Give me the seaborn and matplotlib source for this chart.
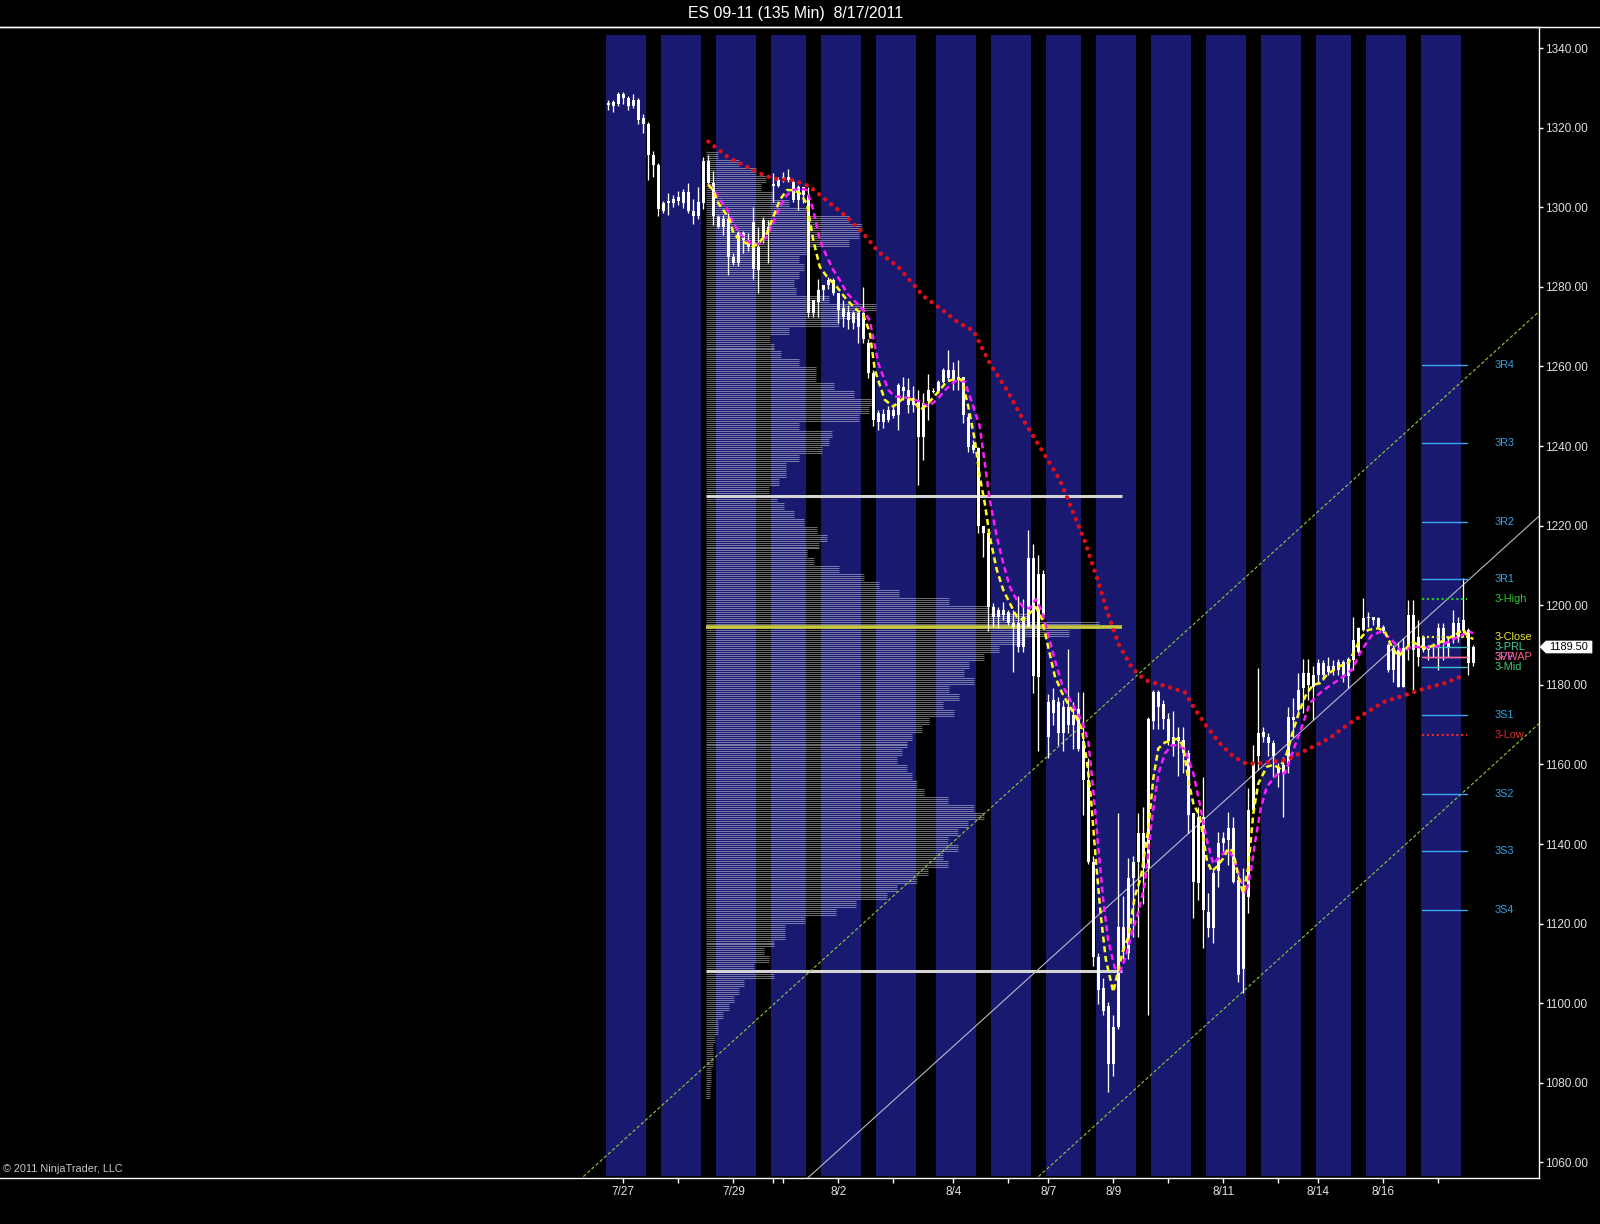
import numpy as np
import matplotlib
matplotlib.use("Agg")
import matplotlib.pyplot as plt
import matplotlib.transforms as mtransforms
from matplotlib.lines import Line2D
from matplotlib.patches import Polygon
import seaborn as sns

# ---------------- data ----------------
# OHLC of the 135-minute bars, bar index 0..173
opens = [1325.8, 1325.5, 1326.0, 1328.5, 1327.5, 1325.5, 1327.0, 1322.5, 1321.0, 1313.0,
         1310.5, 1299.0, 1301.0, 1302.0, 1301.5, 1301.0, 1303.8, 1299.0, 1297.8, 1301.0,
         1311.5, 1306.0, 1297.6, 1295.1, 1297.0, 1287.6, 1286.0, 1293.4, 1291.7, 1284.5,
         1290.0, 1291.7, 1295.0, 1305.4, 1305.4, 1306.8, 1307.7, 1306.4, 1301.8, 1305.0,
         1303.0, 1273.3, 1276.3, 1279.2, 1280.5, 1281.7, 1278.4, 1274.6, 1273.7, 1273.3,
         1270.0, 1273.3, 1266.0, 1258.3, 1246.0, 1248.0, 1246.5, 1249.0, 1247.8, 1254.9,
         1254.1, 1250.3, 1251.2, 1242.3, 1251.2, 1253.5, 1253.7, 1256.2, 1257.0, 1259.1,
         1256.6, 1257.4, 1247.4, 1240.2, 1239.4, 1219.8, 1218.1, 1199.6, 1197.1, 1198.8,
         1198.4, 1195.5, 1195.5, 1189.6, 1194.6, 1211.8, 1182.0, 1207.9, 1175.6, 1173.0,
         1175.6, 1167.9, 1174.5, 1170.0, 1174.0, 1165.8, 1156.1, 1135.6, 1111.5, 1103.8,
         1099.2, 1084.8, 1094.0, 1119.2, 1112.5, 1131.5, 1135.6, 1142.8, 1134.0, 1171.0,
         1178.1, 1175.1, 1171.5, 1164.8, 1166.9, 1166.1, 1162.8, 1147.7, 1130.2, 1146.9,
         1123.0, 1118.8, 1133.1, 1140.2, 1141.0, 1144.0, 1131.0, 1108.5, 1126.8, 1148.5,
         1162.0, 1168.2, 1167.0, 1165.3, 1159.4, 1157.8, 1160.3, 1172.0, 1173.7, 1179.1,
         1182.9, 1179.5, 1182.5, 1185.4, 1184.6, 1183.7, 1183.7, 1185.8, 1182.1, 1186.2,
         1188.3, 1193.8, 1196.7, 1197.1, 1196.7, 1194.6, 1190.0, 1183.7, 1188.8, 1179.5,
         1189.2, 1197.5, 1187.1, 1192.1, 1188.8, 1189.2, 1189.2, 1194.2, 1190.4, 1191.3,
         1195.5, 1193.4, 1193.8, 1185.5]
highs = [1327.0, 1327.0, 1329.0, 1329.0, 1328.0, 1328.5, 1327.5, 1323.5, 1321.5, 1314.0,
         1311.0, 1301.5, 1303.5, 1303.0, 1304.0, 1304.5, 1306.0, 1302.0, 1305.0, 1312.5,
         1313.0, 1309.0, 1298.0, 1298.0, 1298.5, 1288.4, 1294.0, 1294.0, 1293.4, 1300.0,
         1295.0, 1297.6, 1296.8, 1308.5, 1307.7, 1308.8, 1309.5, 1306.8, 1305.6, 1305.2,
         1305.0, 1276.7, 1282.0, 1280.5, 1282.5, 1282.1, 1278.4, 1276.7, 1275.5, 1274.0,
         1273.3, 1280.0, 1267.0, 1259.0, 1249.0, 1249.2, 1250.0, 1250.5, 1255.8, 1257.4,
         1257.0, 1255.0, 1254.1, 1253.2, 1258.0, 1254.5, 1256.6, 1259.5, 1264.1, 1261.2,
         1261.6, 1257.4, 1248.2, 1241.5, 1239.8, 1219.8, 1218.9, 1200.5, 1199.6, 1200.9,
         1198.8, 1198.8, 1202.2, 1201.5, 1218.9, 1215.5, 1212.5, 1208.9, 1177.6, 1179.2,
         1177.0, 1176.1, 1188.9, 1175.6, 1178.1, 1178.1, 1161.7, 1137.1, 1112.5, 1106.3,
         1100.2, 1097.1, 1147.9, 1126.9, 1136.6, 1137.1, 1147.9, 1149.4, 1172.0, 1178.6,
         1178.6, 1176.1, 1173.0, 1173.5, 1169.5, 1169.5, 1163.6, 1147.7, 1149.4, 1156.9,
         1127.6, 1133.5, 1143.1, 1143.1, 1148.1, 1146.9, 1133.1, 1133.9, 1154.0, 1164.8,
         1184.1, 1169.5, 1167.8, 1166.1, 1160.3, 1161.9, 1174.5, 1176.6, 1182.9, 1186.6,
         1186.6, 1184.6, 1186.6, 1186.2, 1187.1, 1186.2, 1186.6, 1186.2, 1187.1, 1197.1,
         1194.6, 1201.7, 1198.4, 1197.1, 1197.1, 1195.1, 1190.4, 1190.0, 1190.8, 1191.7,
         1201.3, 1201.3, 1196.3, 1192.5, 1190.0, 1190.4, 1195.5, 1195.5, 1191.7, 1198.8,
         1197.1, 1206.8, 1194.2, 1190.0]
lows = [1324.5, 1324.0, 1325.5, 1326.0, 1324.5, 1325.0, 1321.0, 1318.6, 1306.8, 1307.5,
        1297.8, 1298.6, 1298.0, 1300.0, 1300.5, 1299.8, 1298.5, 1295.7, 1297.0, 1299.5,
        1305.4, 1295.5, 1294.7, 1293.0, 1283.0, 1285.6, 1285.2, 1288.4, 1289.0, 1282.0,
        1278.4, 1291.0, 1285.9, 1301.4, 1305.0, 1306.4, 1306.4, 1301.4, 1299.3, 1301.0,
        1272.5, 1272.5, 1272.5, 1276.7, 1279.5, 1278.0, 1271.0, 1270.0, 1269.5, 1269.5,
        1266.0, 1265.9, 1257.0, 1245.0, 1244.0, 1244.5, 1246.0, 1247.0, 1244.0, 1251.6,
        1248.2, 1248.6, 1230.2, 1236.5, 1246.5, 1253.2, 1253.2, 1255.8, 1256.6, 1254.1,
        1254.1, 1245.7, 1238.6, 1238.2, 1218.1, 1212.2, 1193.4, 1194.6, 1194.2, 1196.3,
        1195.1, 1183.3, 1188.3, 1188.3, 1194.6, 1177.9, 1163.3, 1196.6, 1161.7, 1170.0,
        1164.8, 1163.3, 1167.9, 1163.8, 1163.3, 1147.4, 1135.1, 1109.4, 1099.7, 1097.1,
        1077.6, 1081.7, 1093.5, 1111.0, 1111.0, 1116.6, 1116.6, 1124.8, 1097.1, 1168.9,
        1168.9, 1168.9, 1164.8, 1162.2, 1157.1, 1157.8, 1142.7, 1121.3, 1125.9, 1113.8,
        1116.7, 1115.1, 1129.3, 1138.1, 1134.7, 1130.1, 1105.4, 1102.5, 1122.6, 1147.7,
        1158.6, 1165.7, 1162.0, 1156.9, 1154.4, 1146.9, 1157.8, 1167.0, 1172.8, 1172.8,
        1176.2, 1171.2, 1180.4, 1181.2, 1182.5, 1182.5, 1182.5, 1180.8, 1179.1, 1183.7,
        1187.9, 1193.4, 1194.6, 1195.1, 1194.2, 1193.0, 1183.3, 1180.8, 1179.5, 1179.5,
        1186.2, 1177.9, 1184.6, 1188.3, 1186.2, 1187.1, 1183.7, 1186.2, 1187.1, 1190.4,
        1190.8, 1192.1, 1182.5, 1184.6]
closes = [1326.0, 1326.5, 1328.5, 1327.5, 1325.5, 1327.0, 1322.0, 1321.0, 1313.0, 1310.5,
          1299.5, 1301.0, 1301.5, 1301.0, 1302.5, 1303.8, 1299.0, 1297.8, 1301.2, 1311.5,
          1306.0, 1297.8, 1295.1, 1297.0, 1287.6, 1286.0, 1293.4, 1291.7, 1290.1, 1296.4,
          1284.2, 1296.8, 1293.4, 1305.8, 1306.8, 1307.7, 1306.8, 1301.8, 1305.0, 1303.0,
          1273.3, 1276.7, 1279.2, 1280.5, 1281.7, 1278.4, 1274.2, 1272.5, 1271.6, 1270.8,
          1273.3, 1267.0, 1258.3, 1246.5, 1248.2, 1246.0, 1249.0, 1247.5, 1255.3, 1253.7,
          1250.3, 1252.0, 1242.3, 1250.7, 1254.1, 1253.7, 1256.2, 1259.1, 1259.1, 1256.6,
          1257.4, 1247.8, 1239.8, 1239.0, 1219.8, 1218.1, 1199.6, 1197.1, 1198.8, 1197.5,
          1195.5, 1194.6, 1189.6, 1197.1, 1211.8, 1182.1, 1207.9, 1197.6, 1166.9, 1176.1,
          1167.9, 1174.5, 1170.0, 1172.5, 1163.8, 1156.1, 1135.6, 1111.5, 1103.3, 1098.1,
          1084.8, 1094.0, 1119.2, 1113.0, 1131.5, 1135.6, 1142.8, 1134.0, 1171.5, 1178.1,
          1174.5, 1171.5, 1165.8, 1167.0, 1166.0, 1162.8, 1147.3, 1130.5, 1146.9, 1123.4,
          1118.8, 1132.6, 1140.2, 1141.4, 1144.0, 1130.5, 1107.1, 1128.5, 1148.5, 1160.3,
          1167.8, 1167.0, 1165.3, 1162.0, 1157.8, 1159.8, 1172.0, 1171.2, 1178.7, 1182.9,
          1179.9, 1182.5, 1185.4, 1182.5, 1183.3, 1184.8, 1185.8, 1182.5, 1186.6, 1191.3,
          1194.2, 1196.7, 1197.1, 1196.3, 1194.6, 1193.4, 1183.7, 1189.2, 1179.5, 1189.2,
          1197.5, 1188.8, 1192.1, 1188.8, 1189.2, 1189.6, 1194.2, 1190.4, 1189.2, 1195.5,
          1192.1, 1196.3, 1185.4, 1189.5]

# session background bands (first bar, number of bars)
band_start = [0, 11, 22, 33, 43, 54, 66, 77, 88, 98, 109, 120, 131, 142, 152, 163]
band_len = [8, 8, 8, 7, 8, 8, 8, 8, 7, 8, 8, 8, 8, 7, 8, 8]

# date axis
tick_bars = [3, 14, 25, 33, 35, 46, 57, 69, 80, 88, 101, 112, 123, 134, 142, 155, 166]
tick_labels = ['7/27', '', '7/29', '', '', '8/2', '', '8/4', '', '8/7', '8/9', '',
               '8/11', '', '8/14', '8/16', '']
y_ticks = [1060, 1080, 1100, 1120, 1140, 1160, 1180, 1200, 1220, 1240, 1260, 1280,
           1300, 1320, 1340]

# fast (yellow) and slow (magenta) moving averages: (bar, price)
ma_fast_bar = [20, 21, 22, 23, 24.3, 25, 26.3, 27.7, 29, 30.3, 31.7, 33, 34.3, 35.7, 37,
               38.3, 39.7, 41, 42.3, 43.7, 45.7, 47.7, 49.7, 51, 52.3, 53.3, 55.3, 57, 59,
               61, 62.3, 63.7, 65.7, 67.7, 69.7, 70.7, 72, 73.3, 74.3, 75.3, 76.3, 77.7,
               79, 80.3, 81.7, 83, 84.3, 85.5, 86.7, 88, 89.3, 90.7, 92, 93.3, 94.7, 95.7,
               96.5, 97.5, 98.5, 99.5, 101, 102, 103, 104, 105.3, 106.5, 108, 109, 110,
               111.3, 112.7, 114, 115, 116, 117, 118.3, 119.7, 120.7, 121.7, 123, 124, 125,
               126, 127, 128, 129, 130, 131.7, 133, 134.3, 135.7, 137, 138.3, 139.7, 141,
               142.3, 143.7, 146, 148, 149.3, 150.7, 152, 154, 155.3, 156.7, 158, 159.3,
               160.7, 162, 163.3, 165.3, 167.3, 169.3, 171, 172, 173]
ma_fast_price = [1305.6, 1304.3, 1301.0, 1299.3, 1296.8, 1293.5, 1291.7, 1290.9, 1290.1,
                 1291.3, 1293.4, 1297.6, 1301.8, 1304.3, 1304.3, 1303.5, 1301.0, 1291.7,
                 1285.0, 1282.6, 1280.0, 1276.7, 1274.2, 1272.9, 1268.5, 1259.1, 1251.6,
                 1249.9, 1252.0, 1251.6, 1249.0, 1250.3, 1253.2, 1256.2, 1257.0, 1256.6,
                 1249.9, 1241.5, 1232.3, 1225.6, 1217.2, 1208.9, 1203.8, 1200.5, 1197.1,
                 1196.3, 1198.0, 1199.5, 1196.6, 1189.4, 1182.2, 1178.1, 1175.1, 1172.5,
                 1168.9, 1161.0, 1152.0, 1136.0, 1122.0, 1111.0, 1102.8, 1108.4, 1113.5,
                 1116.6, 1126.9, 1131.5, 1143.8, 1156.5, 1164.0, 1165.5, 1166.0, 1166.5,
                 1164.5, 1156.1, 1150.2, 1146.9, 1136.0, 1133.1, 1134.3, 1136.4, 1138.9,
                 1138.1, 1131.8, 1127.6, 1134.3, 1147.7, 1155.2, 1159.4, 1159.9, 1159.0,
                 1162.8, 1168.6, 1173.7, 1177.9, 1180.0, 1180.4, 1182.5, 1184.6, 1185.4,
                 1188.8, 1192.1, 1193.8, 1194.2, 1193.4, 1189.6, 1187.1, 1188.8, 1190.9,
                 1190.0, 1189.2, 1190.0, 1191.3, 1192.5, 1193.8, 1192.1, 1191.5]
ma_slow_bar = [20, 21, 22.3, 23.7, 25, 26.3, 27.7, 29, 30.3, 31.7, 33, 34.3, 35.7, 37, 38.3,
               39.7, 41, 42.3, 43.7, 45, 46.3, 47.7, 49.7, 51, 52.3, 54, 56, 57.3, 58.3,
               60.3, 62.3, 64, 65.7, 67.7, 69.7, 71.3, 73, 74.3, 75.3, 76.3, 77.7, 79,
               80.3, 81.7, 83, 84.3, 85.5, 86.7, 88, 89.3, 90.7, 92, 93.3, 94.7, 96, 97, 98,
               99, 100, 101.3, 102.3, 103.3, 104.7, 106, 107.3, 108.7, 110, 111.3, 112.7,
               114, 115.3, 117, 118.3, 119.7, 121, 122.3, 123.7, 125, 126.3, 127.5, 128.5,
               129.3, 130.5, 131.7, 133.7, 135.3, 136.3, 137.7, 139, 140.3, 142.3, 144, 146,
               148.7, 150.7, 152.7, 154.7, 156.7, 158.7, 160.7, 162.7, 164.7, 166.7, 168.7,
               170.7, 172, 173]
ma_slow_price = [1305.6, 1304.7, 1301.8, 1299.7, 1296.0, 1293.4, 1291.7, 1290.5, 1290.9,
                 1292.6, 1296.0, 1300.1, 1303.0, 1304.3, 1304.7, 1304.3, 1299.3, 1291.7,
                 1287.6, 1284.2, 1281.7, 1278.4, 1275.9, 1274.2, 1271.5, 1260.8, 1254.1,
                 1252.4, 1252.4, 1252.0, 1251.2, 1249.9, 1251.6, 1254.5, 1256.6, 1256.2,
                 1249.9, 1244.9, 1235.6, 1226.4, 1217.2, 1210.5, 1204.6, 1201.3, 1199.6,
                 1199.2, 1201.5, 1198.6, 1192.5, 1186.3, 1180.2, 1177.1, 1174.0, 1171.0,
                 1165.8, 1153.5, 1139.2, 1125.8, 1115.6, 1108.9, 1107.9, 1111.0, 1117.6,
                 1122.8, 1130.0, 1146.0, 1157.6, 1162.7, 1164.8, 1164.8, 1163.8, 1157.8,
                 1150.0, 1141.0, 1135.0, 1136.8, 1138.5, 1136.8, 1131.5, 1127.6, 1133.0,
                 1140.0, 1149.0, 1154.4, 1157.5, 1157.8, 1161.1, 1166.0, 1170.5, 1175.4,
                 1177.9, 1179.5, 1181.2, 1183.7, 1188.8, 1192.5, 1193.4, 1191.3, 1188.3,
                 1189.6, 1189.4, 1189.4, 1190.0, 1191.3, 1192.5, 1193.4, 1193.0]

# red dotted trailing line
red_bar = [20, 24, 28.3, 30.3, 33, 37, 40.3, 44.3, 47.7, 51, 54, 58, 63, 67, 70, 73, 76.3,
           79.7, 83, 86.3, 90.3, 92, 95.3, 98, 100, 102, 104.7, 107.3, 110, 112.7, 115.3,
           117, 119.7, 122.3, 125, 127.7, 130.3, 133, 135.7, 138.3, 141, 144.3, 147.3,
           151.3, 155.3, 159.3, 163.3, 167.3, 171.3]
red_price = [1316.5, 1312.5, 1309.8, 1308.5, 1307.2, 1306.8, 1305.2, 1301.0, 1297.6, 1293.4,
             1288.8, 1285.0, 1277.7, 1274.0, 1271.0, 1269.0, 1260.8, 1254.1, 1246.5, 1239.8,
             1231.5, 1226.3, 1216.1, 1205.8, 1197.6, 1190.4, 1184.3, 1181.2, 1180.2, 1179.2,
             1178.1, 1174.5, 1169.5, 1165.3, 1162.0, 1160.1, 1160.3, 1160.7, 1161.1, 1162.8,
             1164.5, 1166.6, 1169.5, 1172.8, 1175.8, 1177.4, 1179.1, 1180.4, 1182.5]

# volume profile: 2-point buckets from 1312 downwards, length in bars
profile_top = 1312
profile_len = [2.4, 6.6, 10, 12, 11, 13.6, 16.6, 20.6, 28.6, 31.2,
               30.6, 28.6, 20.6, 18.6, 19.6, 18.6, 17.6, 18, 24.6, 34,
               30.6, 26.6, 16.6, 12.8, 13.6, 15, 18.6, 22, 22, 25.6,
               29.6, 33, 32.6, 30.6, 18.6, 25.2, 24.6, 23.2, 18.6, 16,
               16, 14.6, 12.6, 14.2, 15.6, 17.6, 19.6, 22.2, 24.2, 22.6,
               20.2, 21.6, 26.6, 31.6, 34.6, 38.6, 48.6, 56.6, 64.6, 78.6,
               72.6, 63.6, 58.6, 55.6, 52.6, 51.6, 53.6, 48.6, 50.6, 47.4,
               49.6, 44.6, 43.2, 41.2, 40.2, 39.2, 38.2, 40.2, 41.2, 42.2,
               43.6, 48.4, 53.6, 55.6, 52.4, 50.4, 48.4, 50.4, 47.4, 48.4,
               44.4, 42.2, 38.2, 36.2, 30, 26, 19.8, 15.8, 15.8, 13.6,
               11.6, 12.6, 9.6, 13.6, 7.6, 6.6, 5.6, 4.6, 3.4, 2.4,
               2.4, 1.8, 1.4, 1.4, 1.4, 1, 1, 0.8, 0.8]
profile_start_bar = 19.5
profile_end_bar = 102.8
value_area = [1227.5, 1108.0]
poc_price = 1194.4

# pitchfork: anchor bar/price for upper, median, lower line; common slope (points per bar)
fork_bar = [85.34, 143.34, 138.34]
fork_price = [1159.15, 1173.7, 1115.9]
fork_slope = 1.137

# pivot levels
pivot_names = ['3R4', '3R3', '3R2', '3R1', '3-High', '3-Close', '3-PRL', '3PP', '3VWAP',
               '3-Mid', '3S1', '3-Low', '3S2', '3S3', '3S4']
pivot_values = [1260.3, 1240.8, 1221.0, 1206.5, 1201.5, 1191.9, 1189.4, 1186.9, 1186.9,
                1184.4, 1172.3, 1167.5, 1152.6, 1138.2, 1123.4]
pivot_line_colors = ['#3aa8f0', '#3aa8f0', '#3aa8f0', '#3aa8f0', '#22c322', '#e6e63a',
                     '#3cc8c0', '#ff6a9a', '#ff6a9a', '#3cc0d0', '#3aa8f0', '#e02a2a',
                     '#3aa8f0', '#3aa8f0', '#3aa8f0']
pivot_text_colors = ['#2ea2e6', '#2ea2e6', '#2ea2e6', '#2ea2e6', '#2ec82e', '#e8e836',
                     '#40d0a0', '#b458d8', '#ff5a8c', '#3ccc7c', '#2ea2e6', '#e02a2a',
                     '#2ea2e6', '#2ea2e6', '#2ea2e6']
pivot_dotted = [False, False, False, False, True, True, False, False, False, False, False,
                True, False, False, False]
last_price = 1189.50

# ---------------- figure ----------------
sns.set_theme(style='dark', rc={'axes.facecolor': 'black', 'figure.facecolor': 'black'})
plt.rcParams['font.family'] = ['Liberation Sans', 'DejaVu Sans']

W, H = 1600, 1224
fig = plt.figure(figsize=(W / 100, H / 100), dpi=100)
fig.patch.set_facecolor('black')
ax = fig.add_axes([0, (H - 1178) / H, 1539 / W, (1178 - 27) / H])
ax.set_facecolor('black')
ax.grid(False)
xmin, xmax = -121.66, 186.14
ax.set_xlim(xmin, xmax)
ax.set_ylim(1056.08, 1345.28)

# session bands
for s, n in zip(band_start, band_len):
    ax.axvspan(s - 0.5, s + n - 0.5, ymin=0.002, ymax=0.993, color='#191970', lw=0, zorder=0)

# volume profile (thin translucent lines)
for k, ln in enumerate(profile_len):
    b = profile_top - 2 * k
    levels = [b + 0.25, b + 0.75, b + 1.25, b + 1.75]
    ax.hlines(levels, profile_start_bar, profile_start_bar + ln, color='white',
              alpha=0.42, lw=0.75, zorder=1)

ax.hlines(value_area, profile_start_bar, profile_end_bar, color='#d4d4d4', lw=2.2, zorder=2)
ax.hlines([poc_price], profile_start_bar, profile_end_bar, color='#c8c83c', lw=2.6, zorder=2)

# pitchfork
xs = np.array([xmin, xmax])
for k, (b0, p0) in enumerate(zip(fork_bar, fork_price)):
    ys = p0 + fork_slope * (xs - b0)
    if k == 1:
        ax.plot(xs, ys, color='#b8b8cc', lw=0.8, zorder=2.5)
    else:
        ax.plot(xs, ys, color='#8ccd3c', lw=0.8, linestyle=(0, (3, 2)), zorder=2.5)

# candles
o = np.array(opens); h = np.array(highs); l = np.array(lows); c = np.array(closes)
x = np.arange(len(o))
ax.vlines(x, l, h, color='white', lw=0.95, zorder=3)
ax.bar(x, np.maximum(np.abs(c - o), 0.3), bottom=np.minimum(o, c), width=0.66,
       color='white', lw=0, zorder=3)

# moving averages and trailing line (seaborn)
sns.lineplot(x=ma_slow_bar, y=ma_slow_price, ax=ax, color='#ff1cff', lw=1.8,
             linestyle=(0, (2.4, 1.5)), sort=False, estimator=None, zorder=5)
sns.lineplot(x=ma_fast_bar, y=ma_fast_price, ax=ax, color='#ffff1e', lw=1.8,
             linestyle=(0, (2.4, 1.5)), sort=False, estimator=None, zorder=5.5)
sns.lineplot(x=red_bar, y=red_price, ax=ax, color='#dc0f1c', lw=3.2,
             linestyle=(0, (0.01, 1.75)), dash_capstyle='round', sort=False,
             estimator=None, zorder=6)

# pivots
for name, v, lc, tc, dotted in zip(pivot_names, pivot_values, pivot_line_colors,
                                   pivot_text_colors, pivot_dotted):
    if dotted:
        ax.plot([162.8, 171.8], [v, v], color=lc, lw=1.6, linestyle=(0, (1, 1.2)), zorder=4)
    else:
        ax.plot([162.8, 171.8], [v, v], color=lc, lw=1.0, zorder=4)
    ax.text(177.3, v, name, color=tc, fontsize=7.8, ha='left', va='center', zorder=7)

# axes styling
ax.spines['left'].set_visible(False)
for side in ['top', 'right', 'bottom']:
    ax.spines[side].set_visible(True)
    ax.spines[side].set_color('white')
    ax.spines[side].set_linewidth(1.0)
ax.yaxis.tick_right()
ax.set_yticks(y_ticks)
ax.set_yticklabels([f'{v:.2f}' for v in y_ticks])
ax.tick_params(axis='y', which='both', right=True, left=False, colors='white',
               labelcolor='#e0e0e0', length=3, width=1, direction='out', pad=1.5,
               labelsize=8.5)
ax.set_xticks(tick_bars)
ax.set_xticklabels(tick_labels)
ax.tick_params(axis='x', which='both', bottom=True, colors='white', labelcolor='#e0e0e0',
               length=3.6, width=1, direction='out', pad=2.5, labelsize=8.5)
ax.set_xlabel('')
ax.set_ylabel('')

# last price marker: pentagon tag pointing at the axis, located from the data value
x_axis_px, y_px = ax.transData.transform((xmax, last_price))
tag_px = [(x_axis_px + 1, y_px), (x_axis_px + 7, y_px + 6), (x_axis_px + 53, y_px + 6),
          (x_axis_px + 53, y_px - 6), (x_axis_px + 7, y_px - 6)]
tag_fig = fig.transFigure.inverted().transform(tag_px)
fig.add_artist(Polygon(tag_fig, closed=True, transform=fig.transFigure, fc='white',
                       ec='white', lw=0.5, zorder=8))
tx, ty = fig.transFigure.inverted().transform((x_axis_px + 30, y_px))
fig.text(tx, ty, f'{last_price:.2f}', ha='center', va='center', fontsize=7.8,
         color='black', zorder=9)

# title, frame line, copyright
fig.text(796 / W, 1 - 13.5 / H, 'ES 09-11 (135 Min)  8/17/2011', ha='center', va='center',
         color='white', fontsize=11.4)
fig.add_artist(Line2D([0, 1], [1 - 27 / H, 1 - 27 / H], transform=fig.transFigure,
                      color='white', lw=1.0))
fig.text(3 / W, 1 - 1172 / H, '\u00a9 2011 NinjaTrader, LLC', ha='left', va='baseline',
         color='#c8c8c8', fontsize=7.8)

fig.savefig('out.png', dpi=100, facecolor='black')
